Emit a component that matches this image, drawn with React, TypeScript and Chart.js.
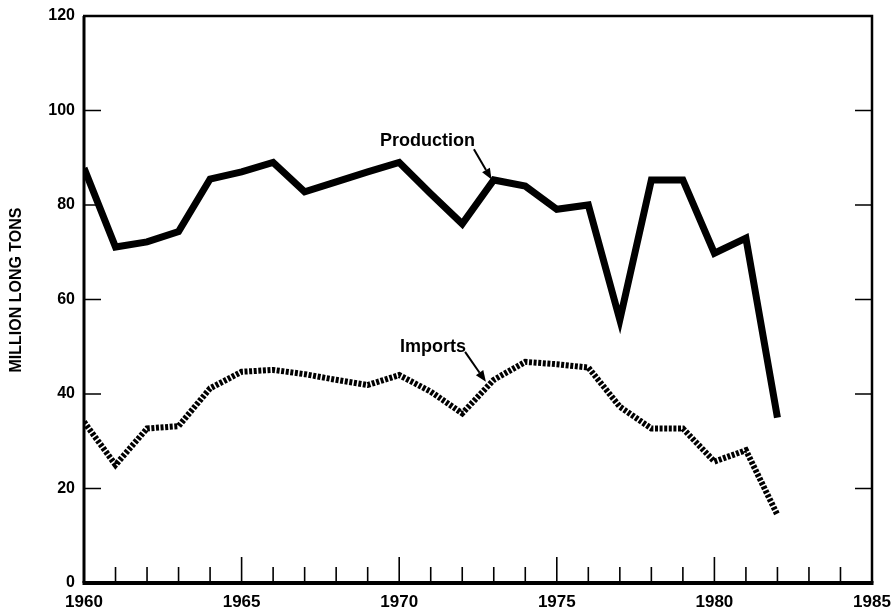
import React, { useEffect, useRef } from "react";
import { Chart, registerables } from "chart.js";

Chart.register(...registerables);

const years = [1960, 1961, 1962, 1963, 1964, 1965, 1966, 1967, 1968, 1969, 1970, 1971, 1972, 1973, 1974, 1975, 1976, 1977, 1978, 1979, 1980, 1981, 1982];
const production = [87.8, 71.1, 72.2, 74.4, 85.5, 87.0, 89.0, 82.8, 84.9, 87.0, 89.0, 82.4, 76.0, 85.3, 84.0, 79.1, 80.0, 55.7, 85.3, 85.3, 69.8, 73.0, 35.0];
const imports = [34.1, 25.0, 32.7, 33.2, 41.2, 44.7, 45.1, 44.2, 43.0, 41.9, 44.0, 40.5, 35.9, 43.0, 46.8, 46.3, 45.6, 37.3, 32.7, 32.7, 25.7, 28.1, 14.4];
const yTicks = [0, 20, 40, 60, 80, 100, 120];
const xTickLabels = [1960, 1965, 1970, 1975, 1980, 1985];
const yTitle = "MILLION LONG TONS";
const labelProduction = "Production";
const labelImports = "Imports";

const FONT = "'Liberation Sans', Arial, Helvetica, sans-serif";

const framePlugin = {
  id: "frame",
  beforeDatasetsDraw(chart: any) {
    const { ctx, chartArea, scales } = chart;
    const { left, right, top, bottom } = chartArea;
    const xs = scales.x;
    const ys = scales.y;
    ctx.save();
    ctx.strokeStyle = "#000";
    ctx.lineCap = "butt";
    ctx.lineWidth = 1.6;
    for (const v of yTicks) {
      if (v === 0 || v === 120) continue;
      const y = ys.getPixelForValue(v);
      ctx.beginPath();
      ctx.moveTo(left, y);
      ctx.lineTo(left + 17, y);
      ctx.moveTo(right, y);
      ctx.lineTo(right - 17, y);
      ctx.stroke();
    }
    for (let yr = 1961; yr < 1985; yr++) {
      const x = xs.getPixelForValue(yr);
      const len = yr % 5 === 0 ? 26 : 16;
      ctx.beginPath();
      ctx.moveTo(x, bottom);
      ctx.lineTo(x, bottom - len);
      ctx.stroke();
    }
    ctx.lineWidth = 3;
    ctx.beginPath();
    ctx.moveTo(left, bottom);
    ctx.lineTo(left, top);
    ctx.stroke();
    ctx.lineWidth = 2.5;
    ctx.beginPath();
    ctx.moveTo(left - 1, top);
    ctx.lineTo(right, top);
    ctx.lineTo(right, bottom);
    ctx.stroke();
    ctx.lineWidth = 4;
    ctx.beginPath();
    ctx.moveTo(left - 1.5, bottom);
    ctx.lineTo(right + 1.5, bottom);
    ctx.stroke();
    ctx.restore();
  },
  afterDatasetsDraw(chart: any) {
    const { ctx, scales } = chart;
    const xs = scales.x;
    const ys = scales.y;
    const px = (x: number) => xs.getPixelForValue(x);
    const py = (y: number) => ys.getPixelForValue(y);
    ctx.save();
    ctx.fillStyle = "#000";
    ctx.strokeStyle = "#000";
    ctx.save();
    ctx.translate(17, 290);
    ctx.rotate(-Math.PI / 2);
    ctx.font = `bold 16px ${FONT}`;
    ctx.textAlign = "center";
    ctx.textBaseline = "middle";
    ctx.fillText(yTitle, 0, 0);
    ctx.restore();

    ctx.font = `bold 18px ${FONT}`;
    ctx.textAlign = "center";
    ctx.textBaseline = "middle";
    ctx.fillText(labelProduction, px(1970.9), py(93.5));
    ctx.fillText(labelImports, px(1971.07), py(49.9));

    const arrow = (x1: number, y1: number, x2: number, y2: number) => {
      const ang = Math.atan2(y2 - y1, x2 - x1);
      const hl = 11;
      const hw = 4.5;
      const bx = x2 - hl * Math.cos(ang);
      const by = y2 - hl * Math.sin(ang);
      ctx.lineWidth = 2;
      ctx.beginPath();
      ctx.moveTo(x1, y1);
      ctx.lineTo(bx, by);
      ctx.stroke();
      ctx.beginPath();
      ctx.moveTo(x2, y2);
      ctx.lineTo(bx + hw * Math.sin(ang), by - hw * Math.cos(ang));
      ctx.lineTo(bx - hw * Math.sin(ang), by + hw * Math.cos(ang));
      ctx.closePath();
      ctx.fill();
    };
    arrow(px(1972.37), py(91.8), px(1972.93), py(85.4));
    arrow(px(1972.09), py(48.9), px(1972.75), py(42.6));
    ctx.restore();
  },
};

export default function App() {
  const ref = useRef<HTMLCanvasElement | null>(null);
  useEffect(() => {
    if (!ref.current) return;
    const chart = new Chart(ref.current, {
      type: "line",
      data: {
        datasets: [
          {
            label: labelProduction,
            data: years.map((y, i) => ({ x: y, y: production[i] })),
            borderColor: "#000",
            borderWidth: 7,
            pointRadius: 0,
            tension: 0,
            fill: false,
            borderJoinStyle: "miter",
            borderCapStyle: "butt",
          },
          {
            label: labelImports,
            data: years.map((y, i) => ({ x: y, y: imports[i] })),
            borderColor: "#000",
            borderWidth: 6,
            borderDash: [3, 1.6],
            pointRadius: 0,
            tension: 0,
            fill: false,
            borderJoinStyle: "miter",
            borderCapStyle: "butt",
          },
        ],
      },
      options: {
        animation: false,
        responsive: false,
        maintainAspectRatio: false,
        layout: { padding: { left: 0, right: 21, top: 16, bottom: 0 } },
        plugins: { legend: { display: false }, tooltip: { enabled: false }, title: { display: false } },
        scales: {
          x: {
            type: "linear",
            min: 1960,
            max: 1985,
            afterBuildTicks: (s: any) => {
              s.ticks = xTickLabels.map((v) => ({ value: v }));
            },
            afterFit: (s: any) => {
              s.height = 25;
              s.paddingLeft = 0;
              s.paddingRight = 0;
            },
            grid: { display: false, drawTicks: false },
            border: { display: false },
            ticks: {
              color: "#000",
              font: { family: FONT, size: 17, weight: "bold" },
              padding: 9,
              maxRotation: 0,
              autoSkip: false,
              callback: (v: any) => String(v),
            },
          },
          y: {
            type: "linear",
            min: 0,
            max: 120,
            afterBuildTicks: (s: any) => {
              s.ticks = yTicks.map((v) => ({ value: v }));
            },
            afterFit: (s: any) => {
              s.width = 84;
              s.paddingTop = 0;
              s.paddingBottom = 0;
            },
            grid: { display: false, drawTicks: false },
            border: { display: false },
            ticks: {
              color: "#000",
              font: { family: FONT, size: 16, weight: "bold" },
              padding: 9,
              callback: (v: any) => String(v),
            },
          },
        },
      },
      plugins: [framePlugin],
    });
    return () => chart.destroy();
  }, []);
  return (
    <div style={{ position: "fixed", left: 0, top: 0, width: 893, height: 608, background: "#fff" }}>
      <canvas ref={ref} width={893} height={608} style={{ display: "block", width: 893, height: 608 }} />
    </div>
  );
}
